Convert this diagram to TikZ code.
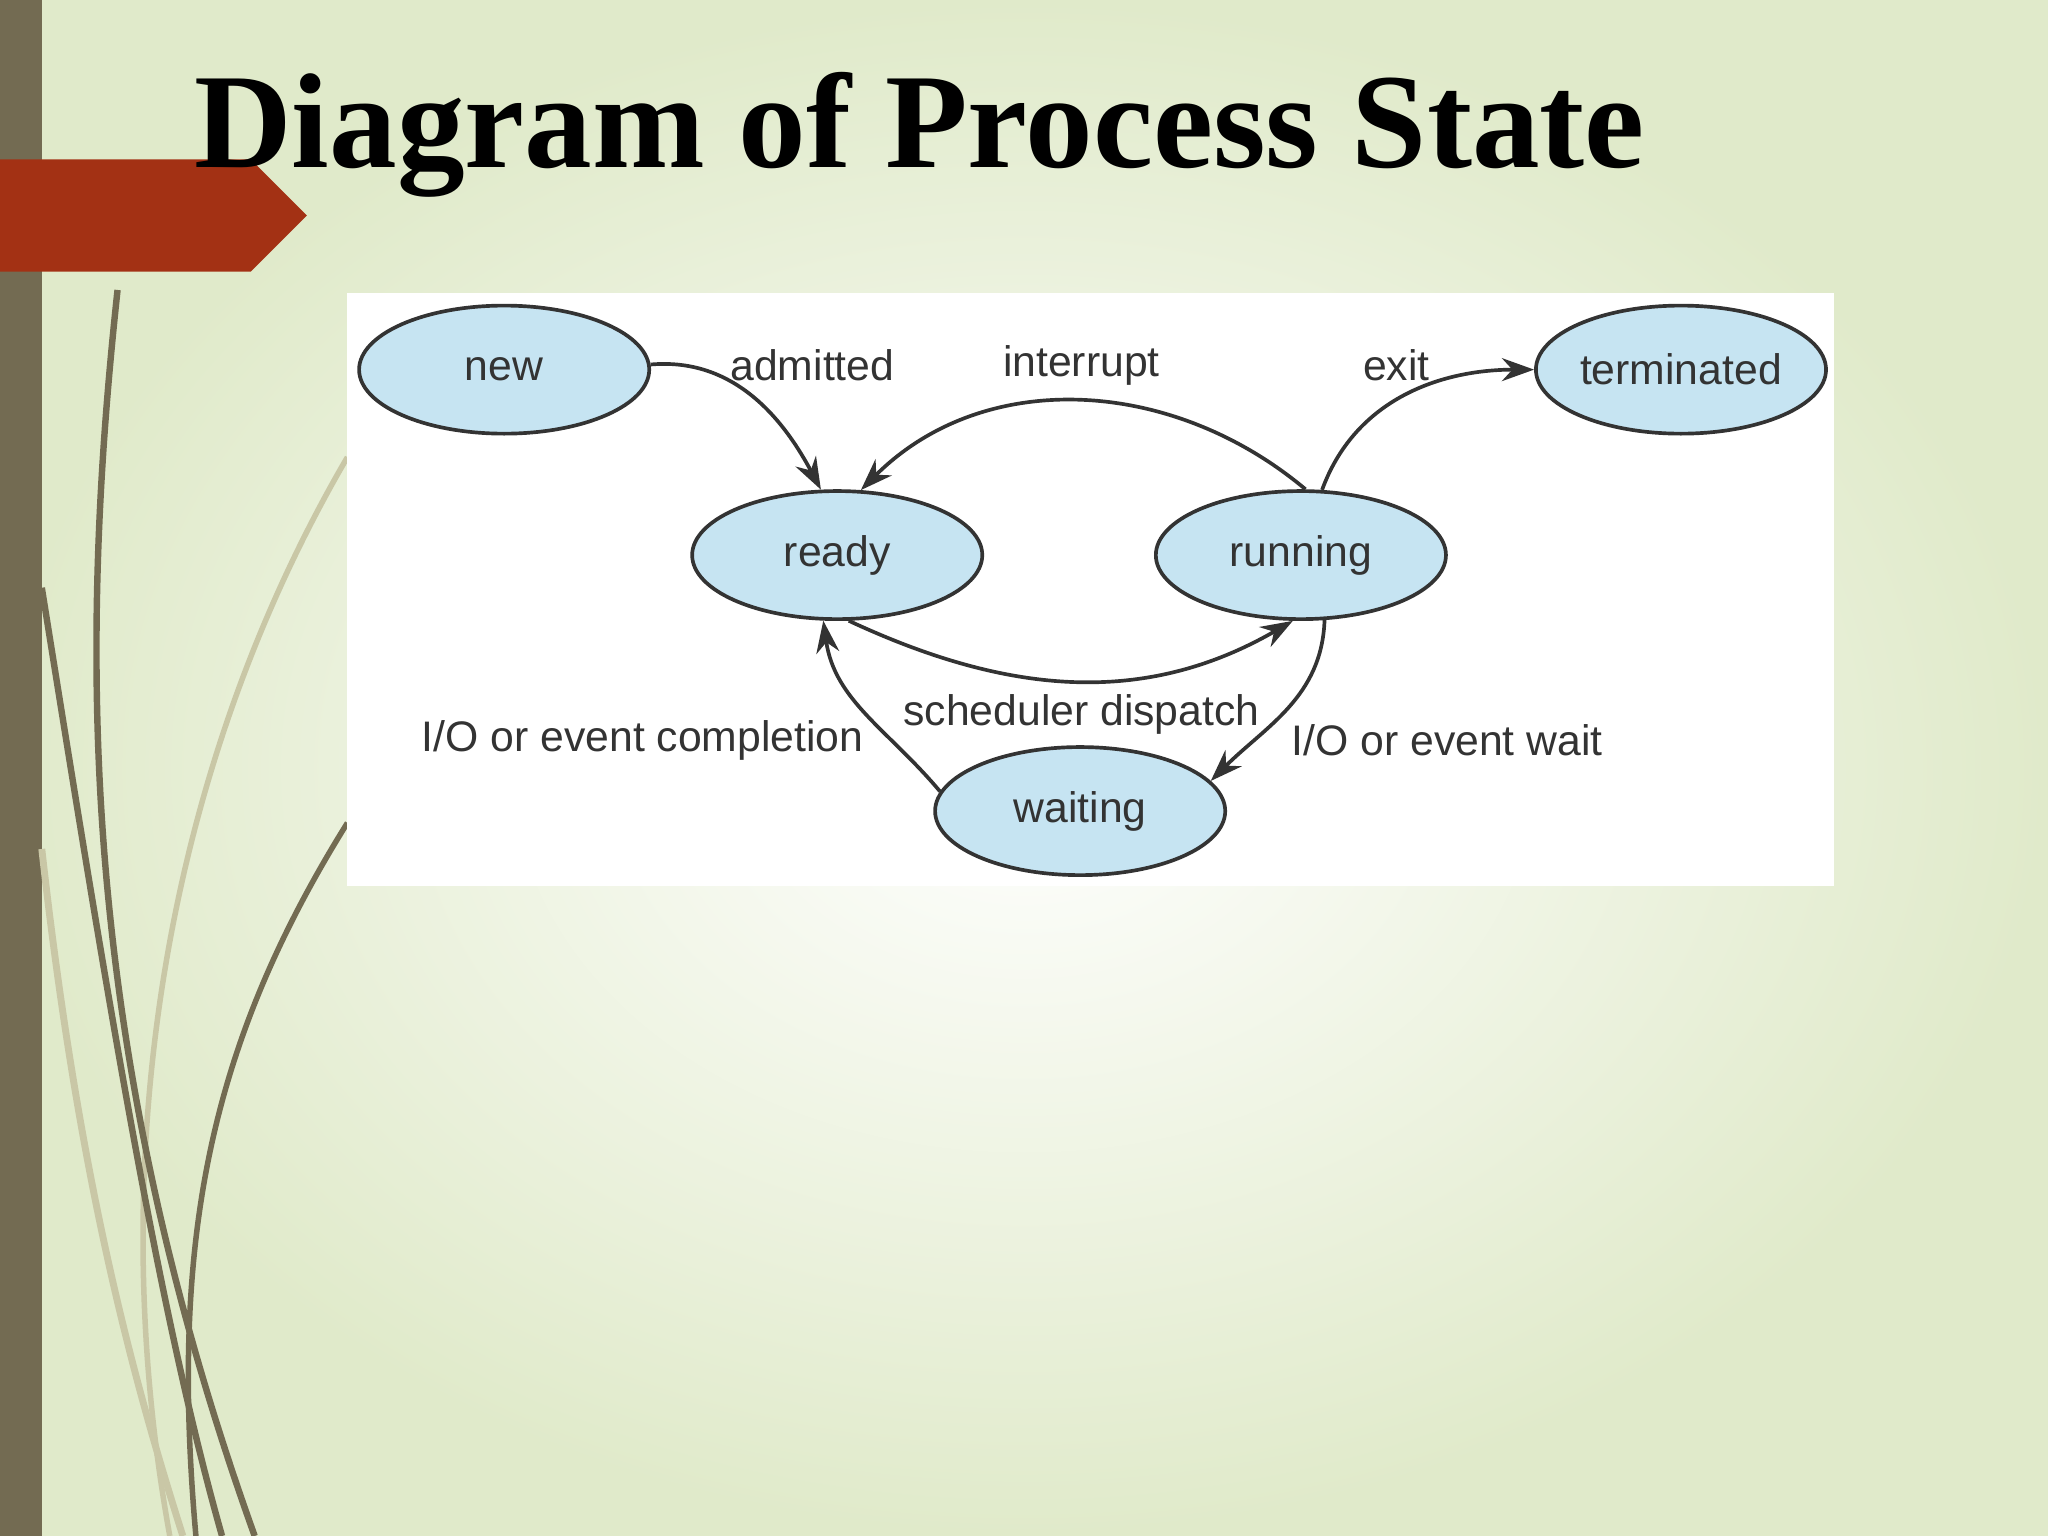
\documentclass[tikz,border=0pt]{standalone}
\usepackage{fontspec}
\setmainfont{Liberation Serif}
\setsansfont{Liberation Sans}
\usetikzlibrary{shapes.geometric,arrows.meta}
\definecolor{olive}{HTML}{736B52}
\definecolor{tan}{HTML}{C9C7A6}
\definecolor{redd}{HTML}{A33114}
\definecolor{bg}{HTML}{E0EACA}
\definecolor{stfill}{HTML}{C6E4F2}
\definecolor{ink}{HTML}{333333}
\begin{document}
\begin{tikzpicture}[x=0.01cm,y=-0.01cm,
  st/.style={ellipse,draw=ink,line width=0.8pt,fill=stfill,minimum width=2.22cm,minimum height=0.98cm,inner sep=0pt,font=\sffamily\fontsize{9.3}{11}\selectfont,text=ink},
  lbl/.style={font=\sffamily\fontsize{9.3}{11}\selectfont,text=ink,inner sep=0pt},
  arr/.style={draw=ink,line width=0.8pt,-{Stealth[length=7pt,width=5pt]}}]
\useasboundingbox (0,0) rectangle (1568,1176);
\shade[inner color=white,outer color=bg] (0,0) rectangle (1568,1176);
\fill[olive] (0,0) rectangle (32,1176);
% decorative curves
\draw[tan,line width=1.2pt] (266,350) .. controls (120,600) and (80,900) .. (130,1176);
\draw[tan,line width=1.5pt] (32,650) .. controls (60,900) and (100,1050) .. (140,1176);
\draw[olive,line width=1.4pt] (90,222) .. controls (60,500) and (60,800) .. (195,1176);
\draw[olive,line width=1.4pt] (32,450) .. controls (80,750) and (120,1000) .. (170,1176);
\draw[olive,line width=1.2pt] (266,630) .. controls (160,800) and (130,950) .. (150,1176);
\fill[redd] (0,122) -- (192,122) -- (235,165) -- (192,208) -- (0,208) -- cycle;
\node[anchor=base west,inner sep=0pt] (title) at (148,128)
  {\resizebox{11.1cm}{!}{\bfseries Diagram of Process State}};
\fill[white] (266,224) rectangle (1404,678);
\node[st] (new) at (386,283) {new};
\node[st] (term) at (1287,283) {terminated};
\node[st] (ready) at (641,425) {ready};
\node[st] (run) at (996,425) {running};
\node[st] (wait) at (827,621) {waiting};
\draw[arr] (new.2) to[out=5,in=118] (ready.104);
\draw[arr] (run.86) to[out=140,in=45] (ready.70);
\draw[arr] (run.72) to[out=70,in=180] (term.west);
\draw[arr] (ready.-80) to[out=-25,in=-150] (run.-97);
\draw[arr] (run.-70) to[out=-92,in=45] (wait.13);
\draw[arr] (wait.172) to[out=130,in=-82] (ready.-102);
\node[lbl] (la) at (622,280) {admitted};
\node[lbl] (li) at (828,280) {interrupt};
\node[lbl] (le) at (1069,280) {exit};
\node[lbl] (ld) at (828,547) {scheduler dispatch};
\node[lbl] (lc) at (492,567) {I/O or event completion};
\node[lbl] (lw) at (1108,567) {I/O or event wait};
\end{tikzpicture}
\end{document}
